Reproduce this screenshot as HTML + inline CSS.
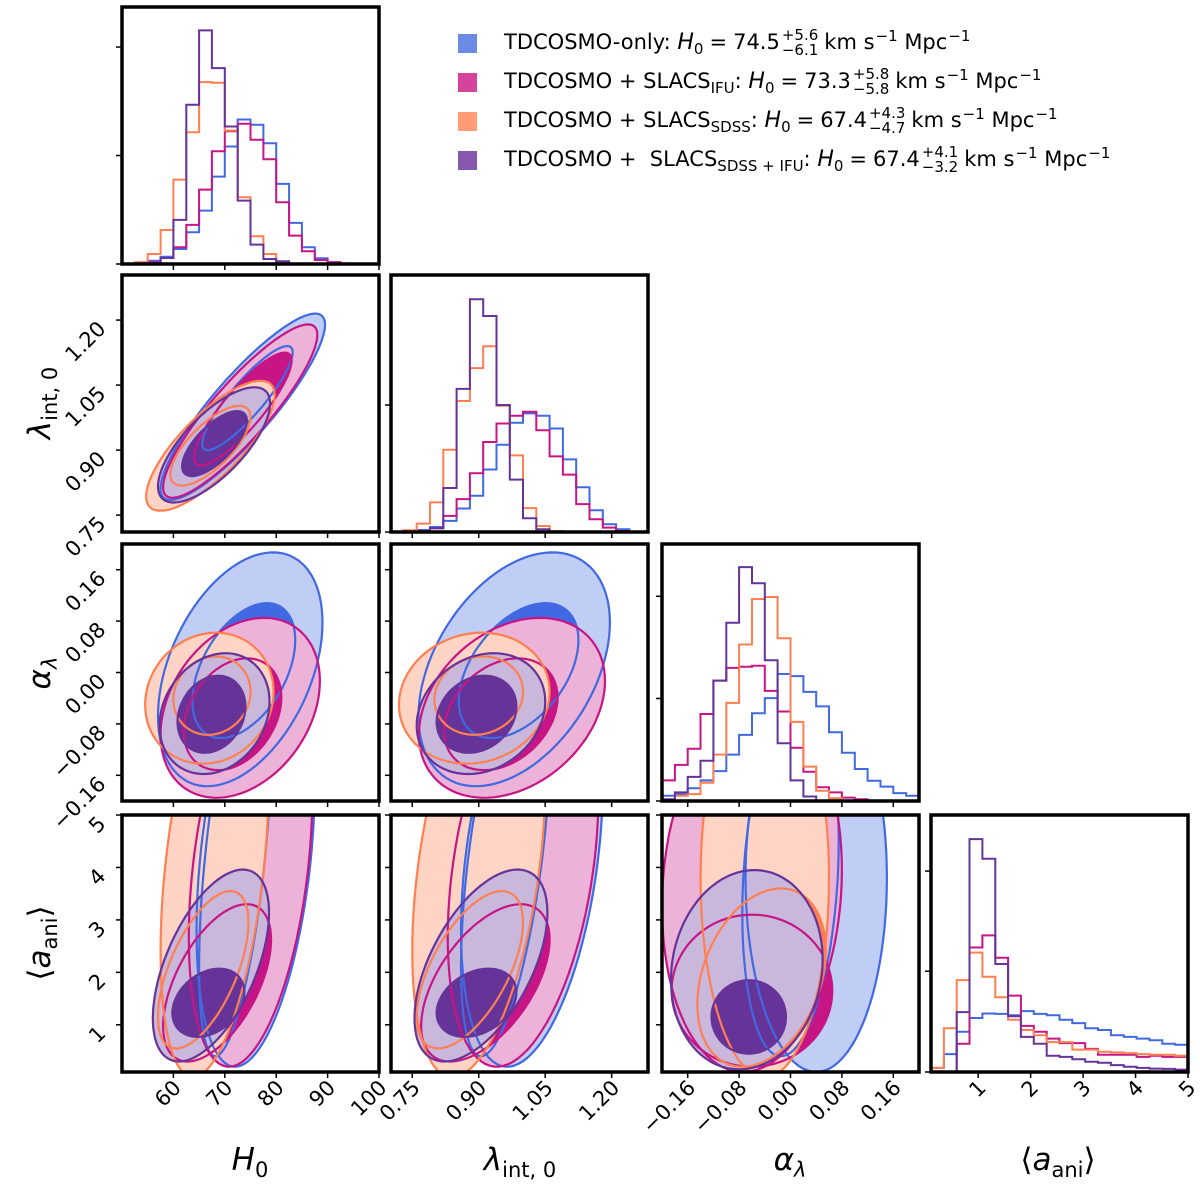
<!DOCTYPE html>
<html><head><meta charset="utf-8"><style>
body{margin:0;background:#fff;}
#wrap{position:relative;width:1200px;height:1193px;overflow:hidden;font-family:"DejaVu Sans","Liberation Sans",sans-serif;}
svg{position:absolute;left:0;top:0;}
.leg{position:absolute;left:458px;font-size:21px;line-height:24px;color:#000;white-space:nowrap;}
.sw{display:inline-block;width:19px;height:19px;margin-right:27px;vertical-align:middle;}
.tx{vertical-align:middle;}
.m{font-size:22px;}
.q{margin:0 6px;}
.st{display:inline-block;font-size:15px;line-height:15px;vertical-align:middle;margin-left:2px;margin-right:6px;text-align:left;}
.st span{display:block;}
.sb{font-size:15px;line-height:0;position:relative;top:5px;}
.sp{font-size:15px;line-height:0;position:relative;top:-8px;margin-left:1px;}
</style></head><body>
<div id="wrap">
<svg id="chart" width="1200" height="1193" xmlns="http://www.w3.org/2000/svg"></svg>
<div class="leg" style="top:28px"><span class="sw" style="background:#6a8ae6"></span><span class="tx">TDCOSMO-only: <i class="m">H</i><span class="sb">0</span><span class="q">=</span>74.5<span class="st"><span>+5.6</span><span>−6.1</span></span>km s<span class="sp">−1</span> Mpc<span class="sp">−1</span></span></div>
<div class="leg" style="top:67px"><span class="sw" style="background:#d4449c"></span><span class="tx">TDCOSMO + SLACS<span class="sb">IFU</span>: <i class="m">H</i><span class="sb">0</span><span class="q">=</span>73.3<span class="st"><span>+5.8</span><span>−5.8</span></span>km s<span class="sp">−1</span> Mpc<span class="sp">−1</span></span></div>
<div class="leg" style="top:106px"><span class="sw" style="background:#ff9c74"></span><span class="tx">TDCOSMO + SLACS<span class="sb">SDSS</span>: <i class="m">H</i><span class="sb">0</span><span class="q">=</span>67.4<span class="st"><span>+4.3</span><span>−4.7</span></span>km s<span class="sp">−1</span> Mpc<span class="sp">−1</span></span></div>
<div class="leg" style="top:145px"><span class="sw" style="background:#8658b0"></span><span class="tx">TDCOSMO + &nbsp;SLACS<span class="sb">SDSS + IFU</span>: <i class="m">H</i><span class="sb">0</span><span class="q">=</span>67.4<span class="st"><span>+4.1</span><span>−3.2</span></span>km s<span class="sp">−1</span> Mpc<span class="sp">−1</span></span></div>
</div>
<script>
// ---- data ----
const seriesNames = ['tdcosmo-only','slacs-ifu','slacs-sdss','slacs-sdss-ifu'];
const h0Start = 52.5, h0Step = 2.5;
const h0Blue   = [0,10,22,45,95,160,262,352,433,417,362,240,123,50,17,5];
const h0Pink   = [0,5,18,50,117,223,338,398,420,372,314,185,85,38,12,5];
const h0Orange = [5,30,102,253,395,545,543,400,200,83,30,5,0,0,0,0];
const h0Purple = [0,0,18,132,477,700,587,412,190,58,15,8,0,0,0,0];
const lamStart = 0.73, lamStep = 0.03;
const lamBlue   = [0,6,15,33,70,108,186,260,325,353,346,308,216,133,65,23,8,1];
const lamPink   = [0,3,11,48,98,175,268,323,346,358,303,225,171,83,38,13,3,0];
const lamOrange = [5,25,88,245,390,488,553,376,228,71,18,3,0,0,0,0,0,0];
const lamPurple = [0,0,11,131,426,693,643,378,156,41,8,1,0,0,0,0,0,0];
const alpStart = -0.2, alpStep = 0.02;
const alpBlue   = [15,20,37,60,87,135,192,255,299,369,363,317,275,200,140,93,59,42,23,15];
const alpPink   = [60,105,152,253,350,387,390,393,320,260,155,85,40,25,10,5,0,0,0,0];
const alpOrange = [0,15,20,53,135,285,455,587,593,473,230,100,30,8,0,0,0,0,0,0];
const alpPurple = [5,25,70,117,350,518,680,633,409,168,60,13,0,0,0,0,0,0,0,0];
const aniStart = 0.1, aniStep = 0.245;
const aniBlue   = [12,52,117,157,170,169,165,177,169,165,152,142,127,122,107,102,97,92,82,79];
const aniPink   = [0,0,82,362,397,332,222,134,117,97,84,84,67,50,50,50,44,47,44,44];
const aniOrange = [12,127,267,347,277,217,152,122,107,87,87,65,65,59,57,55,52,50,50,47];
const aniPurple = [0,0,174,677,620,314,162,102,82,47,44,37,30,27,20,15,12,10,9,7];
// contours: [cx, cy, halfX, halfY, rho] per series (blue,pink,orange,purple)
const h0LamOuter = [[73.5,1.0,16,0.215,0.88],[73,0.99,15,0.2,0.88],[67.2,0.91,12.5,0.15,0.78],[67.9,0.912,10.9,0.133,0.72]];
const h0LamInner = [[74.4,1.02,8.8,0.12,0.88],[73.5,0.995,9.5,0.13,0.86],[67.2,0.91,7.8,0.092,0.72],[68,0.915,6.3,0.075,0.7]];
const h0AlpOuter = [[73,0.005,16,0.182,0.4],[73,-0.055,15.5,0.14,0.3],[67,-0.04,12.5,0.102,0.1],[68,-0.064,10.7,0.094,0.2]];
const h0AlpInner = [[73.7,0.003,10,0.105,0.45],[71.5,-0.065,9.5,0.087,0.3],[67.5,-0.036,7.5,0.061,0.1],[67.4,-0.065,6.6,0.06,0.2]];
const lamAlpOuter = [[0.98,0.005,0.216,0.182,0.4],[0.975,-0.055,0.21,0.14,0.3],[0.89,-0.04,0.17,0.102,0.1],[0.905,-0.064,0.145,0.094,0.2]];
const lamAlpInner = [[0.99,0.003,0.135,0.105,0.45],[0.95,-0.065,0.128,0.087,0.3],[0.9,-0.036,0.1,0.061,0.1],[0.895,-0.065,0.09,0.06,0.2]];
const h0AniOuter = [[76,4.2,11.5,4.0,0.35],[75,4.0,12,3.8,0.35],[68,4.0,10.5,4.0,0.4],[67.3,2.13,11.3,1.83,0.55]];
const h0AniInner = [[72,4.2,7,3.8,0.55],[68.5,1.8,10.5,1.5,0.55],[65.8,2.05,8.8,1.5,0.6],[66.8,1.42,7,0.65,0.3]];
const lamAniOuter = [[1.02,4.2,0.16,4.0,0.35],[1.0,4.0,0.17,3.8,0.35],[0.9,4.0,0.15,4.0,0.4],[0.905,2.13,0.15,1.83,0.55]];
const lamAniInner = [[0.96,4.2,0.1,3.8,0.55],[0.915,1.8,0.145,1.5,0.55],[0.88,2.05,0.12,1.5,0.6],[0.895,1.42,0.09,0.65,0.3]];
const alpAniOuter = [[0.04,3.8,0.11,3.7,0.0],[-0.06,3.6,0.14,3.5,0.1],[-0.04,3.8,0.1,3.8,0.0],[-0.068,2.05,0.118,1.9,0.1]];
const alpAniInner = [[0.0,3.8,0.075,3.4,0.2],[-0.06,1.65,0.125,1.45,0.0],[-0.045,1.9,0.1,1.7,0.3],[-0.065,1.15,0.058,0.7,0.0]];
const h0Ticks = [60,70,80,90,100];
const h0TickLabels = ['60','70','80','90','100'];
const lamTicks = [0.75,0.90,1.05,1.20];
const lamTickLabels = ['0.75','0.90','1.05','1.20'];
const alpTicks = [-0.16,-0.08,0,0.08,0.16];
const alpTickLabels = ['−0.16','−0.08','0.00','0.08','0.16'];
const aniTicks = [1,2,3,4,5];
const aniTickLabels = ['1','2','3','4','5'];
const histTicksH0 = [0,325,650], histTicksLam = [0,378], histTicksAlp = [0,298,595], histTicksAni = [0,293,584];

// ---- layout ----
const NS='http://www.w3.org/2000/svg';
const svg=document.getElementById('chart');
const colors=['#4169e1','#c71585','#ff7f50','#663399'];
const light=['#c0cdf4','#ecb2d7','#ffd4c4','#c9b8db'];
const colX=[122,391,662,931], rowY=[7,275,544,815], W=257, H=257;
function lin(d0,d1,p0,p1){return v=>p0+(v-d0)/(d1-d0)*(p1-p0);}
const xs=[lin(50,100,colX[0],colX[0]+W),lin(0.702,1.282,colX[1],colX[1]+W),lin(-0.2,0.2,colX[2],colX[2]+W),lin(0.1,5,colX[3],colX[3]+W)];
const ys=[null,lin(0.711,1.304,rowY[1]+H,rowY[1]),lin(-0.2,0.2,rowY[2]+H,rowY[2]),lin(0.1,5,rowY[3]+H,rowY[3])];
function el(tag,attrs,parent){const e=document.createElementNS(NS,tag);for(const k in attrs)e.setAttribute(k,attrs[k]);(parent||svg).appendChild(e);return e;}
const defs=el('defs',{});
let clipId=0;
function panelGroup(c,r,name){
  const id='clip'+(clipId++);
  const cp=el('clipPath',{id:id},defs);
  el('rect',{x:colX[c],y:rowY[r],width:W,height:H},cp);
  const g=el('g',{'clip-path':'url(#'+id+')'});
  
  
  return g;
}
function ellipsePts(p,xf,yf){
  const [cx,cy,hx,hy,rho]=p;const s=Math.sqrt(1-rho*rho);const pts=[];
  for(let i=0;i<96;i++){const t=i/96*2*Math.PI;pts.push(xf(cx+hx*Math.cos(t)).toFixed(1)+','+yf(cy+hy*(rho*Math.cos(t)+s*Math.sin(t))).toFixed(1));}
  return pts.join(' ');
}
function drawContours(c,r,outer,inner,name){
  const g=panelGroup(c,r,name);
  const xf=xs[c], yf=ys[r];
  for(let s=0;s<4;s++){
    const a=el('polygon',{points:ellipsePts(outer[s],xf,yf),fill:light[s]},g);
    
    
    const b=el('polygon',{points:ellipsePts(inner[s],xf,yf),fill:colors[s]},g);
    
    
  }
  for(let s=0;s<4;s++){
    for(const p of [outer[s],inner[s]]){
      const l=el('polygon',{points:ellipsePts(p,xf,yf),fill:'none',stroke:colors[s],'stroke-width':2.2},g);
      
      
    }
  }
}
function drawHist(c,r,start,step,list,ymax,name){
  const g=panelGroup(c,r,name);
  const xf=xs[c], yf=lin(0,ymax,rowY[r]+H,rowY[r]);
  list.forEach((counts,s)=>{
    let d='M'+xf(start).toFixed(1)+','+yf(0).toFixed(1);
    counts.forEach((v,i)=>{d+=' L'+xf(start+i*step).toFixed(1)+','+yf(v).toFixed(1)+' L'+xf(start+(i+1)*step).toFixed(1)+','+yf(v).toFixed(1);});
    d+=' L'+xf(start+counts.length*step).toFixed(1)+','+yf(0).toFixed(1);
    const p=el('path',{d:d,fill:'none',stroke:colors[s],'stroke-width':2,'stroke-linejoin':'miter'},g);
    
    
  });
  return yf;
}
drawHist(0,0,h0Start,h0Step,[h0Blue,h0Pink,h0Orange,h0Purple],770,'h0-histogram');
drawHist(1,1,lamStart,lamStep,[lamBlue,lamPink,lamOrange,lamPurple],765,'lambda-histogram');
drawHist(2,2,alpStart,alpStep,[alpBlue,alpPink,alpOrange,alpPurple],747,'alpha-histogram');
drawHist(3,3,aniStart,aniStep,[aniBlue,aniPink,aniOrange,aniPurple],747,'aani-histogram');
drawContours(0,1,h0LamOuter,h0LamInner,'h0-lambda-contours');
drawContours(0,2,h0AlpOuter,h0AlpInner,'h0-alpha-contours');
drawContours(1,2,lamAlpOuter,lamAlpInner,'lambda-alpha-contours');
drawContours(0,3,h0AniOuter,h0AniInner,'h0-aani-contours');
drawContours(1,3,lamAniOuter,lamAniInner,'lambda-aani-contours');
drawContours(2,3,alpAniOuter,alpAniInner,'alpha-aani-contours');

const colTicks=[h0Ticks,lamTicks,alpTicks,aniTicks], colLabels=[h0TickLabels,lamTickLabels,alpTickLabels,aniTickLabels];
const rowTicks=[null,lamTicks,alpTicks,aniTicks], rowLabels=[null,lamTickLabels,alpTickLabels,aniTickLabels];
const rowScales=[null,ys[1],ys[2],ys[3]];
const histTicks=[histTicksH0,histTicksLam,histTicksAlp,histTicksAni], histMax=[770,765,747,747];
for(let r=0;r<4;r++){for(let c=0;c<=r;c++){
  const x0=colX[c],y0=rowY[r];
  const fr=el('rect',{x:x0,y:y0,width:W,height:H,fill:'none',stroke:'#000','stroke-width':3.5});
  
  
  colTicks[c].forEach(t=>{const x=xs[c](t);el('line',{x1:x,x2:x,y1:y0+H,y2:y0+H+6,stroke:'#000','stroke-width':1.5});});
  if(c===r){const yf=lin(0,histMax[r],y0+H,y0);histTicks[r].forEach(t=>{const y=yf(t);el('line',{x1:x0-6,x2:x0,y1:y,y2:y,stroke:'#000','stroke-width':1.5});});}
  else{rowTicks[r].forEach(t=>{const y=rowScales[r](t);el('line',{x1:x0-6,x2:x0,y1:y,y2:y,stroke:'#000','stroke-width':1.5});});}
}}
// x tick labels (bottom row)
for(let c=0;c<4;c++){colTicks[c].forEach((t,i)=>{const x=xs[c](t)+9,y=rowY[3]+H+17;
  const tx=el('text',{x:x,y:y,'text-anchor':'end','font-size':21,'font-family':'DejaVu Sans, Liberation Sans, sans-serif',transform:'rotate(-45 '+x+' '+y+')'});
  tx.textContent=colLabels[c][i];
  
  });}
// y tick labels (left column)
for(let r=1;r<4;r++){rowTicks[r].forEach((t,i)=>{const y=rowScales[r](t)+10,x=colX[0]-15;
  const tx=el('text',{x:x,y:y,'text-anchor':'end','font-size':21,'font-family':'DejaVu Sans, Liberation Sans, sans-serif',transform:'rotate(-45 '+x+' '+y+')'});
  tx.textContent=rowLabels[r][i];
  
  });}
</script>
<svg width="1200" height="1193" style="position:absolute;left:0;top:0;pointer-events:none" xmlns="http://www.w3.org/2000/svg" font-family="DejaVu Sans, Liberation Sans, sans-serif">
<text x="250" y="1170" text-anchor="middle" font-size="31"><tspan font-style="italic">H</tspan><tspan font-size="21" dy="7">0</tspan></text>
<text x="520" y="1170" text-anchor="middle" font-size="31"><tspan font-style="italic">λ</tspan><tspan font-size="21" dy="7">int, 0</tspan></text>
<text x="790" y="1170" text-anchor="middle" font-size="31"><tspan font-style="italic">α</tspan><tspan font-size="21" dy="7" font-style="italic">λ</tspan></text>
<text x="1058" y="1170" text-anchor="middle" font-size="31">⟨<tspan font-style="italic">a</tspan><tspan font-size="21" dy="7">ani</tspan><tspan dy="-7">⟩</tspan></text>
<text transform="translate(50,403) rotate(-90)" text-anchor="middle" font-size="31"><tspan font-style="italic">λ</tspan><tspan font-size="21" dy="7">int, 0</tspan></text>
<text transform="translate(50,673) rotate(-90)" text-anchor="middle" font-size="31"><tspan font-style="italic">α</tspan><tspan font-size="21" dy="7" font-style="italic">λ</tspan></text>
<text transform="translate(50,943) rotate(-90)" text-anchor="middle" font-size="31">⟨<tspan font-style="italic">a</tspan><tspan font-size="21" dy="7">ani</tspan><tspan dy="-7">⟩</tspan></text>
</svg>
</body></html>
